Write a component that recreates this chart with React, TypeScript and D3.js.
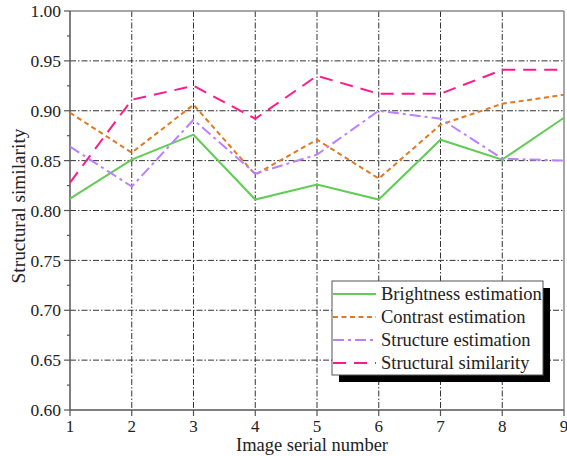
import React from "react";
import * as d3 from "d3";

const images = [1, 2, 3, 4, 5, 6, 7, 8, 9];
const brightness = [0.812, 0.851, 0.876, 0.811, 0.826, 0.811, 0.871, 0.851, 0.893];
const contrast = [0.898, 0.858, 0.906, 0.836, 0.871, 0.832, 0.886, 0.907, 0.916];
const structure = [0.864, 0.824, 0.891, 0.837, 0.856, 0.900, 0.892, 0.852, 0.850];
const ssim = [0.828, 0.911, 0.925, 0.892, 0.935, 0.917, 0.917, 0.941, 0.941];
const yTicks = [0.6, 0.65, 0.7, 0.75, 0.8, 0.85, 0.9, 0.95, 1.0];
const seriesNames = ["Brightness estimation", "Contrast estimation", "Structure estimation", "Structural similarity"];

const W = 567, H = 456;
const M = { left: 70, right: 564, top: 11, bottom: 410 };
const FONT = "Liberation Serif";
const txt = { fontFamily: FONT };

export default function App() {
  const x = d3.scaleLinear().domain([1, 9]).range([M.left, M.right]);
  const y = d3.scaleLinear().domain([0.6, 1.0]).range([M.bottom, M.top]);
  const line = d3.line<number>().x((_, i) => x(images[i])).y((d) => y(d));
  const series = [
    { name: seriesNames[0], data: brightness, color: "#62cc55", dash: "" },
    { name: seriesNames[1], data: contrast, color: "#e07a22", dash: "5,3.5" },
    { name: seriesNames[2], data: structure, color: "#bb80ff", dash: "11,4,3,4" },
    { name: seriesNames[3], data: ssim, color: "#ff1a8a", dash: "13,8" },
  ];
  const minor = d3.range(0.625, 1.0, 0.05);
  const gridDash = "6,2,1.5,2";
  const lg = { x: 332, y: 281, w: 211, h: 94 };
  return (
    <svg width={W} height={H} style={{ position: "absolute", left: 0, top: 0, background: "#fff" }}>
      {images.slice(1, -1).map((v) => (
        <line key={"gx" + v} x1={x(v)} x2={x(v)} y1={M.top} y2={M.bottom} stroke="#333" strokeWidth={1} strokeDasharray={gridDash} />
      ))}
      {yTicks.slice(1, -1).map((v) => (
        <line key={"gy" + v} x1={M.left} x2={M.right} y1={y(v)} y2={y(v)} stroke="#333" strokeWidth={1} strokeDasharray={gridDash} />
      ))}
      <line x1={M.left} x2={M.right} y1={M.top} y2={M.top} stroke="#888" strokeWidth={1.5} />
      <line x1={M.right} x2={M.right} y1={M.top} y2={M.bottom} stroke="#888" strokeWidth={1.5} />
      <line x1={M.left} x2={M.left} y1={M.top} y2={M.bottom} stroke="#555" strokeWidth={1.5} />
      <line x1={M.left} x2={M.right} y1={M.bottom} y2={M.bottom} stroke="#555" strokeWidth={1.5} />
      {yTicks.map((v) => (
        <g key={"yt" + v}>
          <line x1={M.left - 6} x2={M.left} y1={y(v)} y2={y(v)} stroke="#555" strokeWidth={1.2} />
          <text x={M.left - 9} y={y(v)} dy="0.35em" textAnchor="end" fontSize={17.5} fill="#222" style={txt}>{v.toFixed(2)}</text>
        </g>
      ))}
      {minor.map((v) => (
        <line key={"ym" + v} x1={M.left - 3} x2={M.left} y1={y(v)} y2={y(v)} stroke="#555" strokeWidth={1.2} />
      ))}
      {images.map((v) => (
        <g key={"xt" + v}>
          <line x1={x(v)} x2={x(v)} y1={M.bottom} y2={M.bottom + 6} stroke="#555" strokeWidth={1.2} />
          <text x={x(v)} y={M.bottom + 22} textAnchor="middle" fontSize={17} fill="#222" style={txt}>{v}</text>
        </g>
      ))}
      <text x={(M.left + M.right) / 2 - 5} y={451} textAnchor="middle" fontSize={18.5} fill="#222" style={txt}>Image serial number</text>
      <text transform={`translate(25,206) rotate(-90)`} textAnchor="middle" fontSize={19.3} fill="#222" style={txt}>Structural similarity</text>
      {series.map((s) => (
        <path key={s.name} d={line(s.data) || ""} fill="none" stroke={s.color} strokeWidth={2} strokeDasharray={s.dash} />
      ))}
      <rect x={lg.x + 7} y={lg.y + 7} width={lg.w} height={lg.h} fill="#000" />
      <rect x={lg.x} y={lg.y} width={lg.w} height={lg.h} fill="#fff" stroke="#555" strokeWidth={1} />
      {series.map((s, i) => {
        const cy = lg.y + 13 + i * 23;
        return (
          <g key={"lg" + s.name}>
            <line x1={lg.x + 1} x2={lg.x + 44} y1={cy} y2={cy} stroke={s.color} strokeWidth={2} strokeDasharray={s.dash} />
            <text x={lg.x + 49} y={cy} dy="0.35em" fontSize={18.5} fill="#222" style={txt}>{s.name}</text>
          </g>
        );
      })}
    </svg>
  );
}
